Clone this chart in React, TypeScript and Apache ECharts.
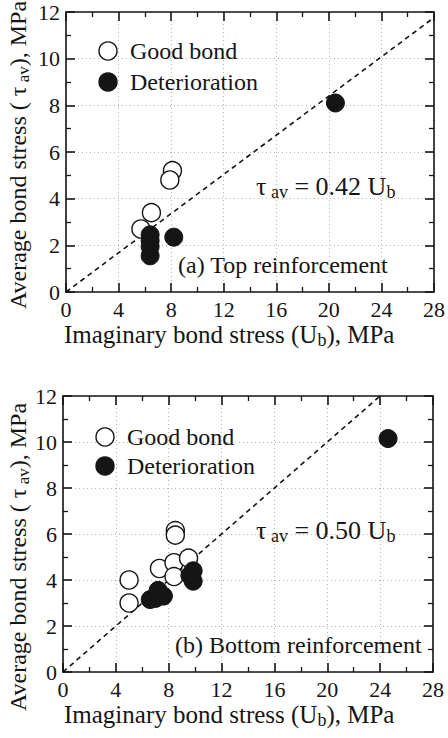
import React, { useEffect, useRef } from "react";
import * as echarts from "echarts";

const FONT = '"Liberation Serif", "DejaVu Serif", serif';
const INK = "#151515";

// Top reinforcement (a)
const topGood: number[][] = [
  [8.1, 5.2],
  [7.9, 4.8],
  [6.5, 3.4],
  [5.7, 2.7],
];
const topDet: number[][] = [
  [20.5, 8.1],
  [6.4, 2.45],
  [6.4, 2.2],
  [6.4, 1.95],
  [6.4, 1.55],
  [8.2, 2.35],
];
// Bottom reinforcement (b)
const botGood: number[][] = [
  [8.5, 6.15],
  [8.5, 5.95],
  [7.3, 4.5],
  [8.4, 4.75],
  [9.5, 4.95],
  [8.4, 4.15],
  [5.0, 4.0],
  [5.0, 3.0],
];
const botDet: number[][] = [
  [24.6, 10.15],
  [6.6, 3.15],
  [7.0, 3.2],
  [7.2, 3.55],
  [7.6, 3.3],
  [9.6, 4.2],
  [9.85, 4.4],
  [9.85, 3.95],
];
const slopes = [0.42, 0.5];
const xMax = 28;
const yMax = 12;
const xTicks = [0, 4, 8, 12, 16, 20, 24, 28];
const yTicks = [0, 2, 4, 6, 8, 10, 12];
const panelLabels = ["(a) Top reinforcement", "(b) Bottom reinforcement"];
const slopeLabels = ["0.42", "0.50"];
const legendNames = ["Good bond", "Deterioration"];

function fitLine(k: number): number[][] {
  const xe = Math.min(xMax, yMax / k);
  return [
    [0, 0],
    [xe, k * xe],
  ];
}

const grids = [
  { left: 66, top: 12, width: 370, height: 280 },
  { left: 63, top: 396, width: 370, height: 276 },
];

export default function App() {
  const ref = useRef<HTMLDivElement>(null);
  useEffect(() => {
    document.body.style.margin = "0";
    const chart = echarts.init(ref.current!, null, { renderer: "svg" });

    const xAxes: any[] = [];
    const yAxes: any[] = [];
    grids.forEach((_, gi) => {
      const common = {
        gridIndex: gi,
        min: 0,
        axisLine: { show: true, onZero: false, lineStyle: { color: INK, width: 1.6 } },
        axisTick: { show: true, inside: true, length: 9, lineStyle: { color: INK, width: 1.6 } },
        minorTick: { show: true, splitNumber: 2, length: 5, lineStyle: { color: INK, width: 1.3 } },
      };
      xAxes.push({
        ...common,
        type: "value",
        position: "bottom",
        max: xMax,
        interval: 4,
        axisLabel: {
          show: true,
          fontFamily: FONT,
          fontSize: 22,
          color: INK,
          margin: 6,
          formatter: (v: number) => (xTicks.includes(v) ? String(v) : ""),
        },
        splitLine: { show: true, lineStyle: { color: "#b5b5b5", type: [1, 3], width: 1 } },
      });
      xAxes.push({
        ...common,
        type: "value",
        position: "top",
        max: xMax,
        interval: 4,
        axisLabel: { show: false },
        splitLine: { show: false },
      });
      yAxes.push({
        ...common,
        type: "value",
        position: "left",
        max: yMax,
        interval: 2,
        axisLabel: {
          show: true,
          fontFamily: FONT,
          fontSize: 22,
          color: INK,
          margin: 6,
          formatter: (v: number) => (yTicks.includes(v) ? String(v) : ""),
        },
        splitLine: { show: true, lineStyle: { color: "#b5b5b5", type: [1, 3], width: 1 } },
      });
      yAxes.push({
        ...common,
        type: "value",
        position: "right",
        max: yMax,
        interval: 2,
        axisLabel: { show: false },
        splitLine: { show: false },
      });
    });

    const series: any[] = [];
    const sets = [
      [topGood, topDet],
      [botGood, botDet],
    ];
    sets.forEach(([good, det], gi) => {
      series.push({
        type: "line",
        xAxisIndex: gi * 2,
        yAxisIndex: gi * 2,
        data: fitLine(slopes[gi]),
        symbol: "none",
        silent: true,
        lineStyle: { color: INK, width: 1.6, type: [5, 4] },
        z: 1,
      });
      series.push({
        type: "scatter",
        name: legendNames[0],
        xAxisIndex: gi * 2,
        yAxisIndex: gi * 2,
        data: good,
        symbol: "circle",
        symbolSize: 18,
        itemStyle: { color: "#ffffff", borderColor: INK, borderWidth: 1.4, opacity: 1 },
        z: 3,
      });
      series.push({
        type: "scatter",
        name: legendNames[1],
        xAxisIndex: gi * 2,
        yAxisIndex: gi * 2,
        data: det,
        symbol: "circle",
        symbolSize: 18,
        itemStyle: { color: INK, borderColor: INK, borderWidth: 1, opacity: 1 },
        z: 4,
      });
    });

    const rich = (size: number, sub: number) => ({
      n: { fontFamily: FONT, fontSize: size, fill: INK, color: INK, lineHeight: size + 4 },
      s: {
        fontFamily: FONT,
        fontSize: sub,
        fill: INK,
        color: INK,
        lineHeight: sub,
        verticalAlign: "bottom",
      },
    });

    const yTitle = "{n|Average bond stress ( τ}{s| av}{n|), MPa}";
    const xTitle = "{n|Imaginary bond stress (U}{s|b}{n|), MPa}";

    const graphic: any[] = [];
    const yTitlePos = [
      [18, 155],
      [18, 557],
    ];
    const xTitlePos = [
      [64, 334],
      [64, 714],
    ];
    const annPos = [
      [256, 186],
      [256, 530],
    ];
    const panelPos = [
      [178, 265],
      [175, 645],
    ];
    // legend: [circle cx, first row cy, row spacing, text x]
    const legendPos = [
      [108, 51, 31, 130],
      [105, 437, 29, 127],
    ];
    [0, 1].forEach((gi) => {
      graphic.push({
        type: "text",
        x: yTitlePos[gi][0],
        y: yTitlePos[gi][1],
        rotation: Math.PI / 2,
        style: { text: yTitle, rich: rich(24, 17), align: "center", verticalAlign: "middle" },
      });
      graphic.push({
        type: "text",
        x: xTitlePos[gi][0],
        y: xTitlePos[gi][1],
        style: { text: xTitle, rich: rich(25, 18), align: "left", verticalAlign: "middle" },
      });
      graphic.push({
        type: "text",
        x: annPos[gi][0],
        y: annPos[gi][1],
        z: 10,
        style: {
          text: `{n|τ}{s| av}{n| = ${slopeLabels[gi]} U}{s|b}`,
          rich: rich(26, 18),
          align: "left",
          verticalAlign: "middle",
        },
      });
      graphic.push({
        type: "text",
        x: panelPos[gi][0],
        y: panelPos[gi][1],
        z: 10,
        style: {
          text: panelLabels[gi],
          fontFamily: FONT,
          fontSize: 24,
          fill: INK,
          align: "left",
          verticalAlign: "middle",
        },
      });
      const [cx, cy, dy, tx] = legendPos[gi];
      legendNames.forEach((name, li) => {
        graphic.push({
          type: "circle",
          z: 10,
          shape: { cx, cy: cy + li * dy, r: 9 },
          style: { fill: li === 0 ? "#ffffff" : INK, stroke: INK, lineWidth: 1.4 },
        });
        graphic.push({
          type: "text",
          x: tx,
          y: cy + li * dy,
          z: 10,
          style: {
            text: name,
            fontFamily: FONT,
            fontSize: 24,
            fill: INK,
            align: "left",
            verticalAlign: "middle",
          },
        });
      });
    });

    chart.setOption({
      animation: false,
      backgroundColor: "#ffffff",
      grid: grids.map((g) => ({ ...g, containLabel: false })),
      xAxis: xAxes,
      yAxis: yAxes,
      series,
      graphic,
    });
    return () => chart.dispose();
  }, []);
  return <div ref={ref} style={{ width: 448, height: 738 }} />;
}
